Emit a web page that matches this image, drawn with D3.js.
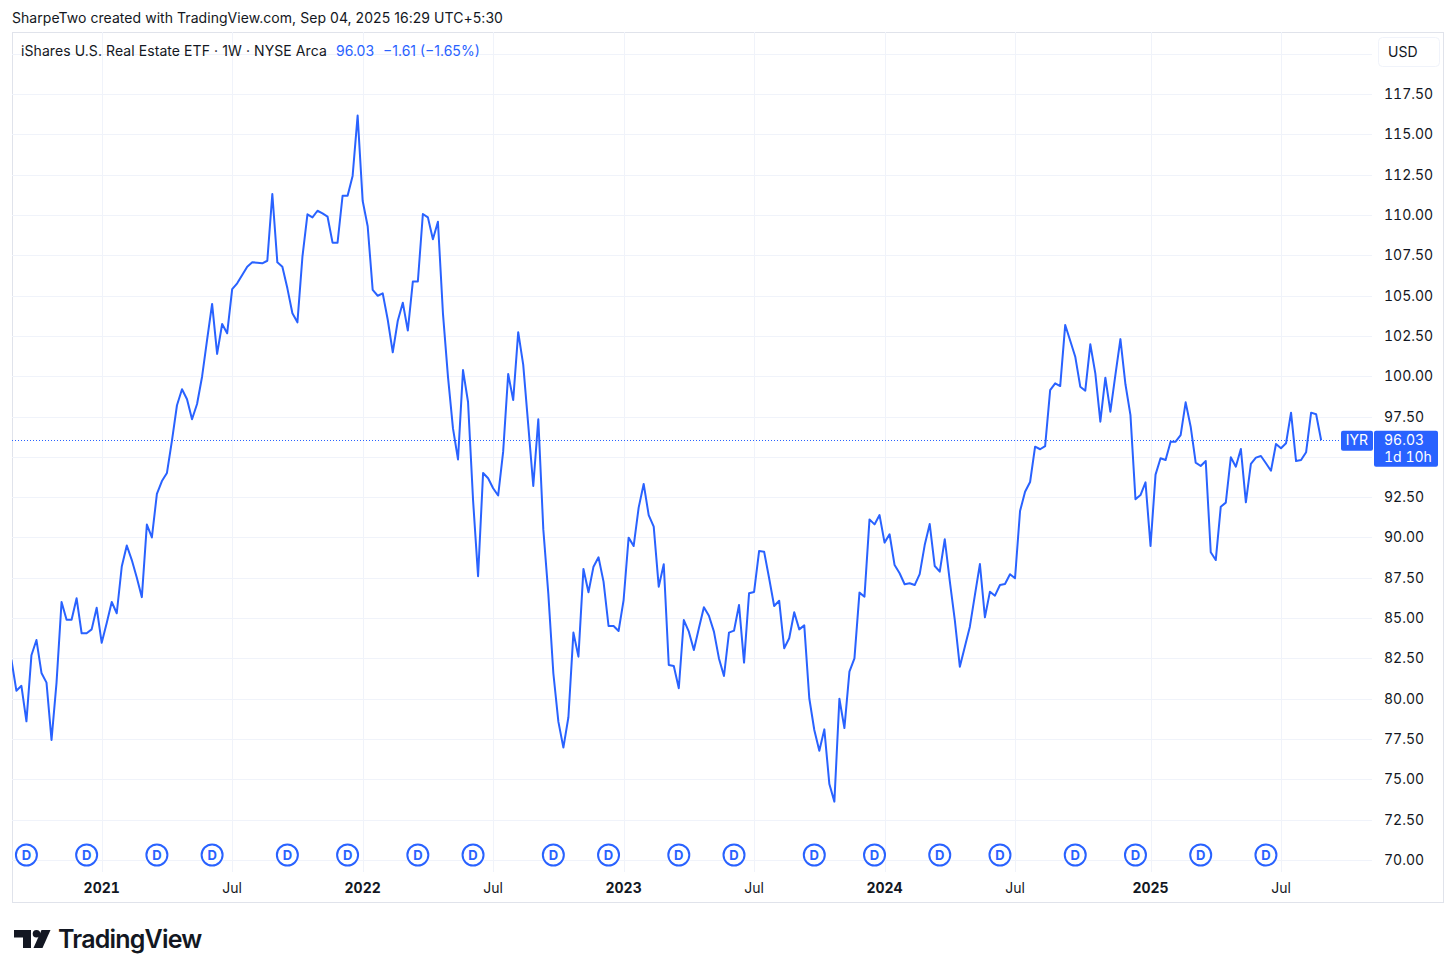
<!DOCTYPE html>
<html>
<head>
<meta charset="utf-8">
<script src="https://cdn.jsdelivr.net/npm/d3@7"></script>
<style>
  body { margin: 0; background: #fff; }
  svg { display: block; font-family: Inter, "Noto Sans", sans-serif; }
  .num { font-variant-numeric: tabular-nums; font-feature-settings: "tnum" 1; }
</style>
</head>
<body>
<script>
// weekly closes of IYR, first week Aug 31 2020, last week Sep 01 2025
var closes = [
  82.42, 80.5, 80.8, 78.6, 82.7, 83.64, 81.6, 81.0, 77.44, 81.0,
  86.0, 84.9, 84.9, 86.23, 84.06, 84.06, 84.3, 85.64, 83.47, 84.7,
  86.0, 85.3, 88.2, 89.5, 88.6, 87.5, 86.3, 90.8, 90.0, 92.7,
  93.5, 94.0, 96.0, 98.2, 99.19, 98.57, 97.33, 98.28, 99.97, 102.25,
  104.48, 101.38, 103.24, 102.66, 105.4, 105.76, 106.28, 106.79, 107.06, 107.04,
  107.0, 107.16, 111.3, 107.06, 106.79, 105.45, 103.9, 103.34, 107.41, 110.04,
  109.85, 110.26, 110.1, 109.9, 108.28, 108.28, 111.19, 111.19, 112.42, 116.16,
  110.88, 109.3, 105.35, 104.99, 105.14, 103.5, 101.48, 103.44, 104.56, 102.83,
  105.87, 105.87, 110.06, 109.85, 108.49, 109.58, 103.9, 99.97, 96.76, 94.84,
  100.38, 98.4, 92.32, 87.6, 94.0, 93.67, 93.05, 92.6, 95.32, 100.14,
  98.52, 102.73, 100.7, 96.97, 93.19, 97.33, 90.5, 86.5, 81.58, 78.58,
  76.97, 78.85, 84.1, 82.61, 88.05, 86.6, 88.19, 88.77, 87.26, 84.51,
  84.51, 84.2, 86.12, 89.99, 89.47, 91.85, 93.32, 91.39, 90.67, 86.95,
  88.34, 82.09, 82.03, 80.65, 84.88, 84.16, 83.02, 84.37, 85.67, 85.15,
  84.16, 82.5, 81.41, 84.1, 84.22, 85.81, 82.24, 86.54, 86.62, 89.16,
  89.12, 87.47, 85.75, 86.08, 83.13, 83.75, 85.36, 84.3, 84.55, 80.03,
  78.06, 76.78, 78.1, 74.71, 73.62, 80.0, 78.18, 81.68, 82.5, 86.58,
  86.33, 91.12, 90.81, 91.39, 89.68, 90.2, 88.29, 87.78, 87.1, 87.16,
  87.05, 87.73, 89.53, 90.83, 88.23, 87.88, 89.89, 87.3, 84.88, 81.99,
  83.23, 84.47, 86.43, 88.35, 85.05, 86.64, 86.39, 87.05, 87.11, 87.72,
  87.47, 91.64, 92.84, 93.44, 95.63, 95.47, 95.67, 99.14, 99.56, 99.39,
  103.18, 102.2, 101.21, 99.35, 99.1, 101.98, 100.18, 97.18, 99.91, 97.8,
  100.08, 102.3, 99.5, 97.59, 92.37, 92.63, 93.42, 89.47, 93.9, 94.91,
  94.8, 95.94, 95.94, 96.35, 98.38, 96.87, 94.64, 94.43, 94.74, 89.08,
  88.6, 91.91, 92.16, 94.97, 94.39, 95.49, 92.18, 94.56, 94.95, 95.05,
  94.6, 94.14, 95.8, 95.53, 95.84, 97.74, 94.74, 94.8, 95.28, 97.74,
  97.64, 96.03
];

// weeks (index into closes) that carry a dividend marker
var dividendWeeks = [3, 15, 29, 40, 55, 67, 81, 92, 108, 119, 133, 144, 160, 172, 185, 197, 212, 224, 237, 250];

var xTickDates = ['2021-01-04', '2021-07-05', '2022-01-03', '2022-07-04', '2023-01-02',
                  '2023-07-03', '2024-01-01', '2024-07-01', '2025-01-06', '2025-07-07'];
var xTickLabels = ['2021', 'Jul', '2022', 'Jul', '2023', 'Jul', '2024', 'Jul', '2025', 'Jul'];
var yTicks = [70, 72.5, 75, 77.5, 80, 82.5, 85, 87.5, 90, 92.5, 95, 97.5, 100,
              102.5, 105, 107.5, 110, 112.5, 115, 117.5, 120];

var lastClose = 96.03;
var titleText = 'iShares U.S. Real Estate ETF · 1W · NYSE Arca';
var changeText = '−1.61 (−1.65%)';

var W = 1456, H = 975;
var frame = { left: 12, top: 32, right: 1444, bottom: 903 };
var plot = { left: 12, top: 32, right: 1372, bottom: 872 };
var blue = '#2962ff';
var ink = '#131722';
var grid = '#f0f3fa';

var weeks = d3.utcMonday.range(Date.UTC(2020, 7, 31), Date.UTC(2025, 8, 2));
var series = closes.map(function(v, i) { return { date: weeks[i], value: v }; });

var parse = d3.utcParse('%Y-%m-%d');
var xScale = d3.scaleUtc()
               .domain([parse('2021-01-04'), parse('2025-07-07')])
               .range([101.7, 1281]);
var yScale = d3.scaleLinear()
               .domain([70, 117.5])
               .range([860, 94]);

var svg = d3.select('body').append('svg')
            .attr('width', W)
            .attr('height', H);

svg.append('text')
   .attr('x', 12).attr('y', 23)
   .attr('font-size', 14).attr('fill', ink)
   .attr('letter-spacing', 0.05)
   .text('SharpeTwo created with TradingView.com, Sep 04, 2025 16:29 UTC+5:30');

svg.append('rect')
   .attr('x', frame.left + 0.5).attr('y', frame.top + 0.5)
   .attr('width', frame.right - frame.left - 1)
   .attr('height', frame.bottom - frame.top - 1)
   .attr('fill', '#fff')
   .attr('stroke', '#e0e3eb');

svg.append('clipPath').attr('id', 'plotclip')
   .append('rect')
   .attr('x', plot.left).attr('y', plot.top)
   .attr('width', plot.right - plot.left)
   .attr('height', plot.bottom - plot.top);

// gridlines
var gridG = svg.append('g').attr('clip-path', 'url(#plotclip)');
gridG.selectAll('line.h')
     .data(yTicks)
     .enter().append('line')
     .attr('x1', plot.left).attr('x2', plot.right)
     .attr('y1', function(d) { return Math.round(yScale(d)) + 0.5; })
     .attr('y2', function(d) { return Math.round(yScale(d)) + 0.5; })
     .attr('stroke', grid);
gridG.selectAll('line.v')
     .data(xTickDates)
     .enter().append('line')
     .attr('x1', function(d) { return Math.round(xScale(parse(d))) + 0.5; })
     .attr('x2', function(d) { return Math.round(xScale(parse(d))) + 0.5; })
     .attr('y1', plot.top).attr('y2', plot.bottom)
     .attr('stroke', grid);

// last price dotted line
svg.append('line')
   .attr('x1', plot.left).attr('x2', 1341)
   .attr('y1', Math.round(yScale(lastClose)) + 0.5)
   .attr('y2', Math.round(yScale(lastClose)) + 0.5)
   .attr('stroke', blue)
   .attr('stroke-dasharray', '1,2');

// price line
var line = d3.line()
             .x(function(d) { return xScale(d.date); })
             .y(function(d) { return yScale(d.value); });
svg.append('path')
   .datum(series)
   .attr('clip-path', 'url(#plotclip)')
   .attr('d', line)
   .attr('fill', 'none')
   .attr('stroke', blue)
   .attr('stroke-width', 2)
   .attr('stroke-linejoin', 'round');

// dividend markers
var divs = svg.append('g').selectAll('g')
              .data(dividendWeeks)
              .enter().append('g')
              .attr('transform', function(d) {
                return 'translate(' + xScale(weeks[d]) + ',855)';
              });
divs.append('circle')
    .attr('r', 10.5)
    .attr('fill', '#fff')
    .attr('stroke', blue)
    .attr('stroke-width', 2);
divs.append('text')
    .attr('text-anchor', 'middle')
    .attr('dy', '0.36em')
    .attr('font-size', 13)
    .attr('font-weight', 700)
    .attr('fill', blue)
    .text('D');

// time axis labels
svg.append('g').selectAll('text')
   .data(xTickDates)
   .enter().append('text')
   .attr('class', 'num')
   .attr('x', function(d) { return xScale(parse(d)); })
   .attr('y', 893)
   .attr('text-anchor', 'middle')
   .attr('font-size', 14)
   .attr('font-weight', function(d, i) { return xTickLabels[i] === 'Jul' ? 400 : 700; })
   .attr('fill', ink)
   .text(function(d, i) { return xTickLabels[i]; });

// price axis labels (the one hidden under the last price box is skipped)
var ly = yScale(lastClose);
var shownTicks = yTicks.filter(function(t) {
  return t <= 117.5 && (yScale(t) < ly - 18 || yScale(t) > ly + 34);
});
var yAxis = d3.axisRight(yScale)
              .tickValues(shownTicks)
              .tickFormat(d3.format('.2f'))
              .tickSize(0)
              .tickPadding(0);
var yG = svg.append('g')
            .attr('transform', 'translate(1384,0)')
            .call(yAxis);
yG.select('.domain').remove();
yG.selectAll('text')
  .attr('class', 'num')
  .attr('font-size', 14)
  .attr('font-family', 'Inter, "Noto Sans", sans-serif')
  .attr('fill', ink);

// USD box
svg.append('rect')
   .attr('x', 1378.5).attr('y', 37.5)
   .attr('width', 61).attr('height', 29)
   .attr('rx', 4)
   .attr('fill', '#fff')
   .attr('stroke', '#f0f3fa');
svg.append('text')
   .attr('x', 1388).attr('y', 57)
   .attr('font-size', 14).attr('fill', ink)
   .text('USD');

// last price labels
svg.append('rect')
   .attr('x', 1341).attr('y', ly - 9.5)
   .attr('width', 32).attr('height', 20)
   .attr('rx', 2)
   .attr('fill', blue);
svg.append('text')
   .attr('x', 1357).attr('y', ly + 5)
   .attr('text-anchor', 'middle')
   .attr('font-size', 14).attr('fill', '#fff')
   .text('IYR');
svg.append('rect')
   .attr('x', 1374).attr('y', ly - 9.5)
   .attr('width', 64).attr('height', 36)
   .attr('rx', 2)
   .attr('fill', blue);
svg.append('text')
   .attr('class', 'num')
   .attr('x', 1384).attr('y', ly + 5)
   .attr('font-size', 14).attr('fill', '#fff')
   .text(d3.format('.2f')(lastClose));
svg.append('text')
   .attr('class', 'num')
   .attr('x', 1384).attr('y', ly + 21.5)
   .attr('font-size', 14).attr('fill', '#fff')
   .text('1d 10h');

// legend
var legend = svg.append('text')
                .attr('x', 21).attr('y', 56)
                .attr('font-size', 14);
legend.append('tspan').attr('fill', ink).attr('letter-spacing', 0.08).text(titleText);
legend.append('tspan').attr('x', 336).attr('fill', blue).text(d3.format('.2f')(lastClose));
legend.append('tspan').attr('x', 383).attr('fill', blue).text(changeText);

// TradingView logo
var logo = svg.append('g').attr('fill', ink);
logo.append('path').attr('d', 'M14,930 H31 V948 H23 V937.5 H14 Z');
logo.append('circle').attr('cx', 36.5).attr('cy', 933.8).attr('r', 3.8);
logo.append('path').attr('d', 'M41.5,930 H50.5 L42.5,948 H33.5 Z');
svg.append('text')
   .attr('x', 58).attr('y', 948)
   .attr('font-size', 25)
   .attr('font-weight', 600)
   .attr('letter-spacing', -0.8)
   .attr('fill', ink)
   .text('TradingView');
</script>
</body>
</html>
